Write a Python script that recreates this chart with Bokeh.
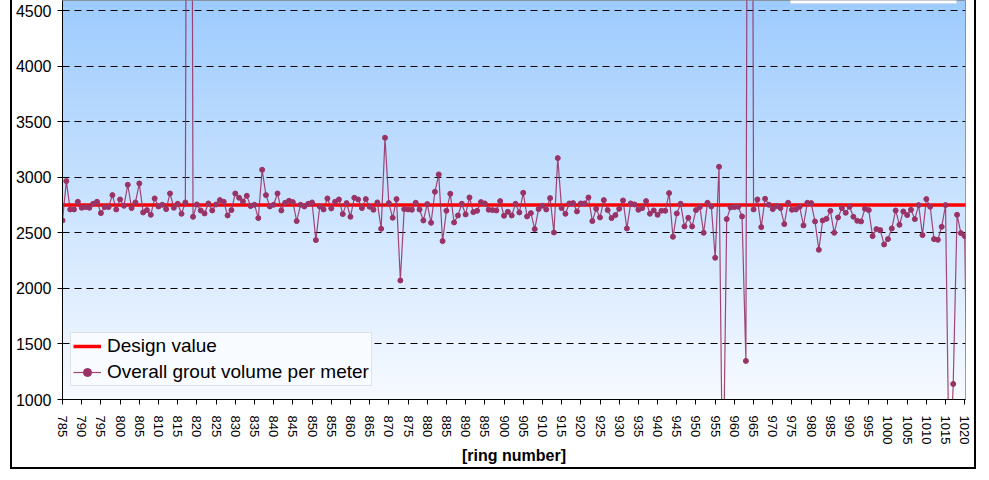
import numpy as np
from bokeh.plotting import figure
from bokeh.models import FixedTicker, Legend, LegendItem, BoxAnnotation, Range1d
from bokeh.embed import file_html
from bokeh.resources import INLINE

# ---------------- data ----------------
rings = list(range(785, 1022))
grout = [
    2611, 2965, 2710, 2710, 2779, 2725, 2731, 2725, 2761, 2779,  # 785-794
    2677, 2731, 2731, 2839, 2710, 2800, 2743, 2932, 2722, 2773,  # 795-804
    2944, 2683, 2704, 2662, 2809, 2737, 2752, 2713, 2854, 2725,  # 805-814
    2761, 2671, 2773, 15000, 2644, 2755, 2701, 2674, 2764, 2701,  # 815-824
    2755, 2794, 2779, 2656, 2704, 2854, 2815, 2782, 2833, 2740,  # 825-834
    2752, 2632, 3067, 2839, 2737, 2752, 2854, 2701, 2770, 2788,  # 835-844
    2776, 2605, 2752, 2737, 2761, 2773, 2434, 2737, 2710, 2809,  # 845-854
    2719, 2779, 2800, 2668, 2767, 2644, 2815, 2800, 2722, 2803,  # 855-864
    2734, 2707, 2773, 2536, 3355, 2767, 2635, 2803, 2071, 2713,  # 865-874
    2710, 2707, 2770, 2710, 2611, 2758, 2590, 2869, 3025, 2425,  # 875-884
    2698, 2851, 2593, 2656, 2761, 2665, 2818, 2686, 2698, 2776,  # 885-894
    2764, 2707, 2704, 2701, 2785, 2653, 2689, 2656, 2761, 2683,  # 895-904
    2860, 2647, 2677, 2533, 2713, 2743, 2710, 2812, 2503, 3172,  # 905-914
    2722, 2671, 2764, 2767, 2692, 2764, 2764, 2818, 2605, 2716,  # 915-924
    2638, 2794, 2704, 2632, 2659, 2716, 2791, 2539, 2764, 2755,  # 925-934
    2707, 2722, 2785, 2671, 2701, 2662, 2698, 2698, 2857, 2464,  # 935-944
    2674, 2761, 2557, 2635, 2557, 2704, 2731, 2500, 2770, 2737,  # 945-954
    2275, 3094, 0, 2623, 2728, 2731, 2734, 2647, 1347, 15000,  # 955-964
    2710, 2800, 2551, 2806, 2752, 2713, 2740, 2722, 2578, 2770,  # 965-974
    2707, 2710, 2734, 2566, 2770, 2767, 2602, 2347, 2611, 2626,  # 975-984
    2698, 2500, 2638, 2722, 2680, 2734, 2644, 2608, 2602, 2716,  # 985-994
    2704, 2470, 2533, 2524, 2395, 2443, 2539, 2701, 2572, 2692,  # 995-1004
    2659, 2707, 2623, 2749, 2479, 2803, 2734, 2443, 2437, 2554,  # 1005-1014
    2749, 200, 1140, 2662, 2497, 2470, 0,                        # 1015-1021
]
design_value = 2750
x_ticks = list(range(785, 1021, 5))
y_ticks = [1000, 1500, 2000, 2500, 3000, 3500, 4000, 4500]

FONT = "Liberation Sans"
PLUM = "#993366"

p = figure(frame_width=903, frame_height=399,
           output_backend="svg", toolbar_location=None,
           x_range=Range1d(785, 1020.2), y_range=Range1d(1000, 4590),
           min_border_left=48, min_border_right=9, min_border_top=3,
           min_border_bottom=66, background_fill_color="white",
           border_fill_color="white")
p.margin = (-3, 0, 0, 12)
p.styles = {"box-shadow": "0 0 0 2px black"}
p.outline_line_color = "#808080"
p.outline_line_width = 1

# gradient background (plot area)
n = 200
t = np.linspace(0.0, 1.0, n)[:, None]
top = np.array([157, 203, 254], dtype=float)[None, :]
bot = np.array([247, 250, 255], dtype=float)[None, :]
cols = bot * (1 - t) + top * t
img = np.empty((n, 2), dtype=np.uint32)
view = img.view(dtype=np.uint8).reshape((n, 2, 4))
for k in range(3):
    view[:, :, k] = np.round(cols[:, k])[:, None].astype(np.uint8)
view[:, :, 3] = 255
p.image_rgba(image=[img], x=p.x_range.start, y=p.y_range.start,
             dw=p.x_range.end - p.x_range.start,
             dh=p.y_range.end - p.y_range.start, level="image")

# grid
p.xgrid.visible = False
p.ygrid.ticker = FixedTicker(ticks=y_ticks)
p.ygrid.grid_line_color = "black"
p.ygrid.grid_line_dash = "7 5"
p.ygrid.grid_line_width = 1

# axes
p.yaxis.ticker = FixedTicker(ticks=y_ticks)
p.yaxis.major_label_text_font = FONT
p.yaxis.major_label_text_font_size = "16px"
p.yaxis.major_label_text_color = "black"
p.yaxis.major_tick_out = 5
p.yaxis.major_tick_in = 0
p.yaxis.minor_tick_out = 0
p.yaxis.minor_tick_in = 0
p.yaxis.major_label_standoff = 6
p.yaxis.axis_line_color = "black"
p.yaxis.major_tick_line_color = "black"

p.xaxis.ticker = FixedTicker(ticks=x_ticks)
p.xaxis.major_label_orientation = "vertical"
p.xaxis.major_label_text_font = FONT
p.xaxis.major_label_text_font_size = "13px"
p.xaxis.major_label_text_color = "black"
p.xaxis.major_tick_out = 5
p.xaxis.major_tick_in = 0
p.xaxis.minor_tick_out = 0
p.xaxis.minor_tick_in = 0
p.xaxis.major_label_standoff = 11
p.xaxis.axis_line_color = "black"
p.xaxis.major_tick_line_color = "black"
p.xaxis.axis_label = "[ring number]"
p.xaxis.axis_label_text_font = FONT
p.xaxis.axis_label_text_font_style = "bold"
p.xaxis.axis_label_text_font_size = "16px"
p.xaxis.axis_label_text_color = "black"
p.xaxis.axis_label_standoff = 0

# series
r_design = p.line([rings[0], rings[-1]], [design_value, design_value],
                  line_color="#FF0000", line_width=3.5)
r_line = p.line(rings, grout, line_color=PLUM, line_width=1.2, line_alpha=0.9)
r_pts = p.scatter(rings, grout, size=5, fill_color=PLUM, line_color=PLUM)

legend = Legend(items=[
    LegendItem(label="Design value", renderers=[r_design]),
    LegendItem(label="Overall grout volume per meter", renderers=[r_line, r_pts]),
], location=(8, 13))
legend.label_text_font = FONT
legend.label_text_font_size = "19px"
legend.label_text_color = "black"
legend.label_height = 20
legend.glyph_height = 20
legend.glyph_width = 28
legend.label_standoff = 6
legend.spacing = 4
legend.padding = 2
legend.margin = 0
legend.border_line_color = "#c8c8c8"
legend.border_line_width = 1
legend.background_fill_color = "#F8FBFF"
legend.background_fill_alpha = 1
p.add_layout(legend)

# white box at top right (partially visible)
p.add_layout(BoxAnnotation(left=778, right=944, top=0, bottom=6,
                           left_units="canvas", right_units="canvas",
                           top_units="canvas", bottom_units="canvas",
                           fill_color="white", fill_alpha=1,
                           line_color="#d0d0d0", line_width=1))

open("out.html", "w").write(file_html(p, INLINE))
